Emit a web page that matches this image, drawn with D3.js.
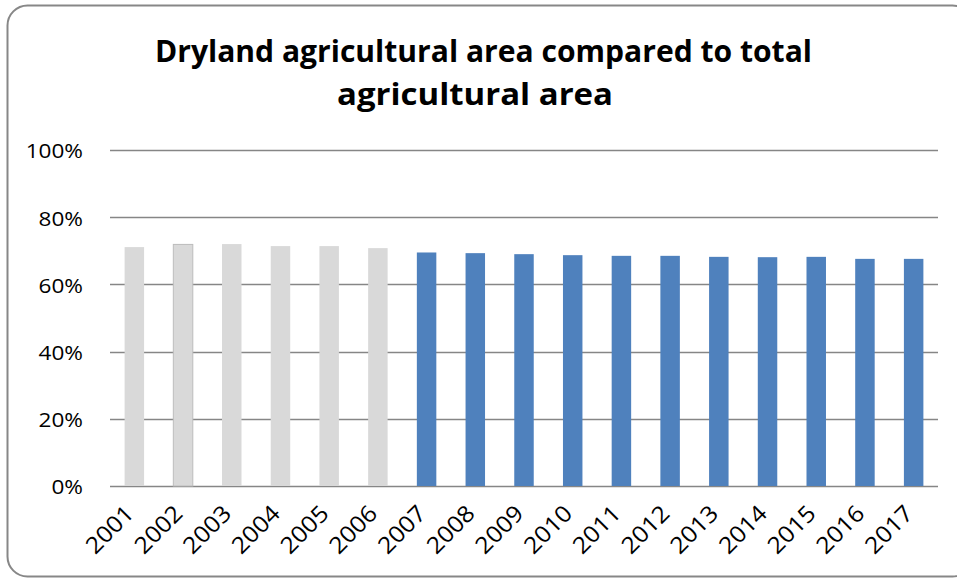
<!DOCTYPE html>
<html>
<head>
<meta charset="utf-8">
<script src="https://cdn.jsdelivr.net/npm/d3@7"></script>
<style>
  html, body { margin: 0; padding: 0; background: #ffffff; }
  svg { display: block; }
</style>
</head>
<body>
<svg id="chart" width="957" height="579"></svg>
<script>
// ---- data ----
const years = ["2001","2002","2003","2004","2005","2006","2007","2008","2009","2010","2011","2012","2013","2014","2015","2016","2017"];
const dryShare = [0.711,0.719,0.720,0.714,0.714,0.708,0.695,0.693,0.690,0.687,0.685,0.685,0.682,0.681,0.682,0.676,0.676];
const barGroup = ["old","old","old","old","old","old","new","new","new","new","new","new","new","new","new","new","new"];
const yTicks = [0, 0.2, 0.4, 0.6, 0.8, 1.0];
const titleLines = ["Dryland agricultural area compared to total", "agricultural area"];

const svg = d3.select("#chart");

// outer frame (right side extends beyond the picture)
svg.append("rect")
  .attr("x", 7.5).attr("y", 5.5)
  .attr("width", 965).attr("height", 571)
  .attr("rx", 20).attr("ry", 20)
  .attr("fill", "#ffffff")
  .attr("stroke", "#878787").attr("stroke-width", 2);

const plot = { left: 110, right: 938, top: 150, bottom: 486 };

const x = d3.scaleBand().domain(years).range([plot.left, plot.right]).paddingInner(0.6).paddingOuter(0.3);
const y = d3.scaleLinear().domain([0, 1]).range([plot.bottom, plot.top]);

const font = "'Open Sans', 'Noto Sans', sans-serif";

// gridlines
svg.append("g").selectAll("line").data(yTicks).join("line")
  .attr("x1", plot.left).attr("x2", plot.right)
  .attr("y1", d => Math.round(y(d)) + 0.5).attr("y2", d => Math.round(y(d)) + 0.5)
  .attr("stroke", "#868686").attr("stroke-width", 1.3);

// y labels via axis
const yAxis = d3.axisLeft(y).tickValues(yTicks).tickFormat(d3.format(".0%")).tickSize(0).tickPadding(0);
const gy = svg.append("g").attr("transform", `translate(${plot.left - 27},0)`).call(yAxis);
gy.select(".domain").remove();
gy.selectAll("text")
  .attr("font-family", font).attr("font-size", 20.5).attr("fill", "#000")
  .attr("dy", "0.38em")
  .attr("transform", "scale(1.1,1)");

// bars
const colors = { old: "#d9d9d9", new: "#4f81bd" };
svg.append("g").selectAll("rect").data(years).join("rect")
  .attr("x", d => x(d))
  .attr("width", x.bandwidth())
  .attr("y", (d, i) => y(dryShare[i]))
  .attr("height", (d, i) => y(0) - y(dryShare[i]))
  .attr("fill", (d, i) => colors[barGroup[i]])
  .attr("stroke", (d, i) => d === "2002" ? "#bcbcbc" : "none")
  .attr("stroke-width", 1);

// x labels via axis
const xAxis = d3.axisBottom(x).tickSize(0).tickPadding(0);
const gx = svg.append("g").attr("transform", `translate(0,${plot.bottom})`).call(xAxis);
gx.select(".domain").remove();
gx.selectAll("text")
  .attr("font-family", font).attr("font-size", 23).attr("fill", "#000")
  .attr("text-anchor", "end")
  .attr("y", 0)
  .attr("dy", "0")
  .attr("transform", "translate(1,29) rotate(-45) scale(1.08,1)");

// title
const title = svg.append("g");
title.selectAll("text").data(titleLines).join("text")
  .attr("x", (d, i) => i === 0 ? 483.5 : 475)
  .attr("y", (d, i) => i === 0 ? 62 : 105)
  .attr("text-anchor", "middle")
  .attr("font-family", font).attr("font-weight", "bold").attr("font-size", 30)
  .attr("fill", "#000")
  .attr("textLength", (d, i) => i === 0 ? 657 : 276)
  .attr("lengthAdjust", "spacingAndGlyphs")
  .text(d => d);
</script>
</body>
</html>
